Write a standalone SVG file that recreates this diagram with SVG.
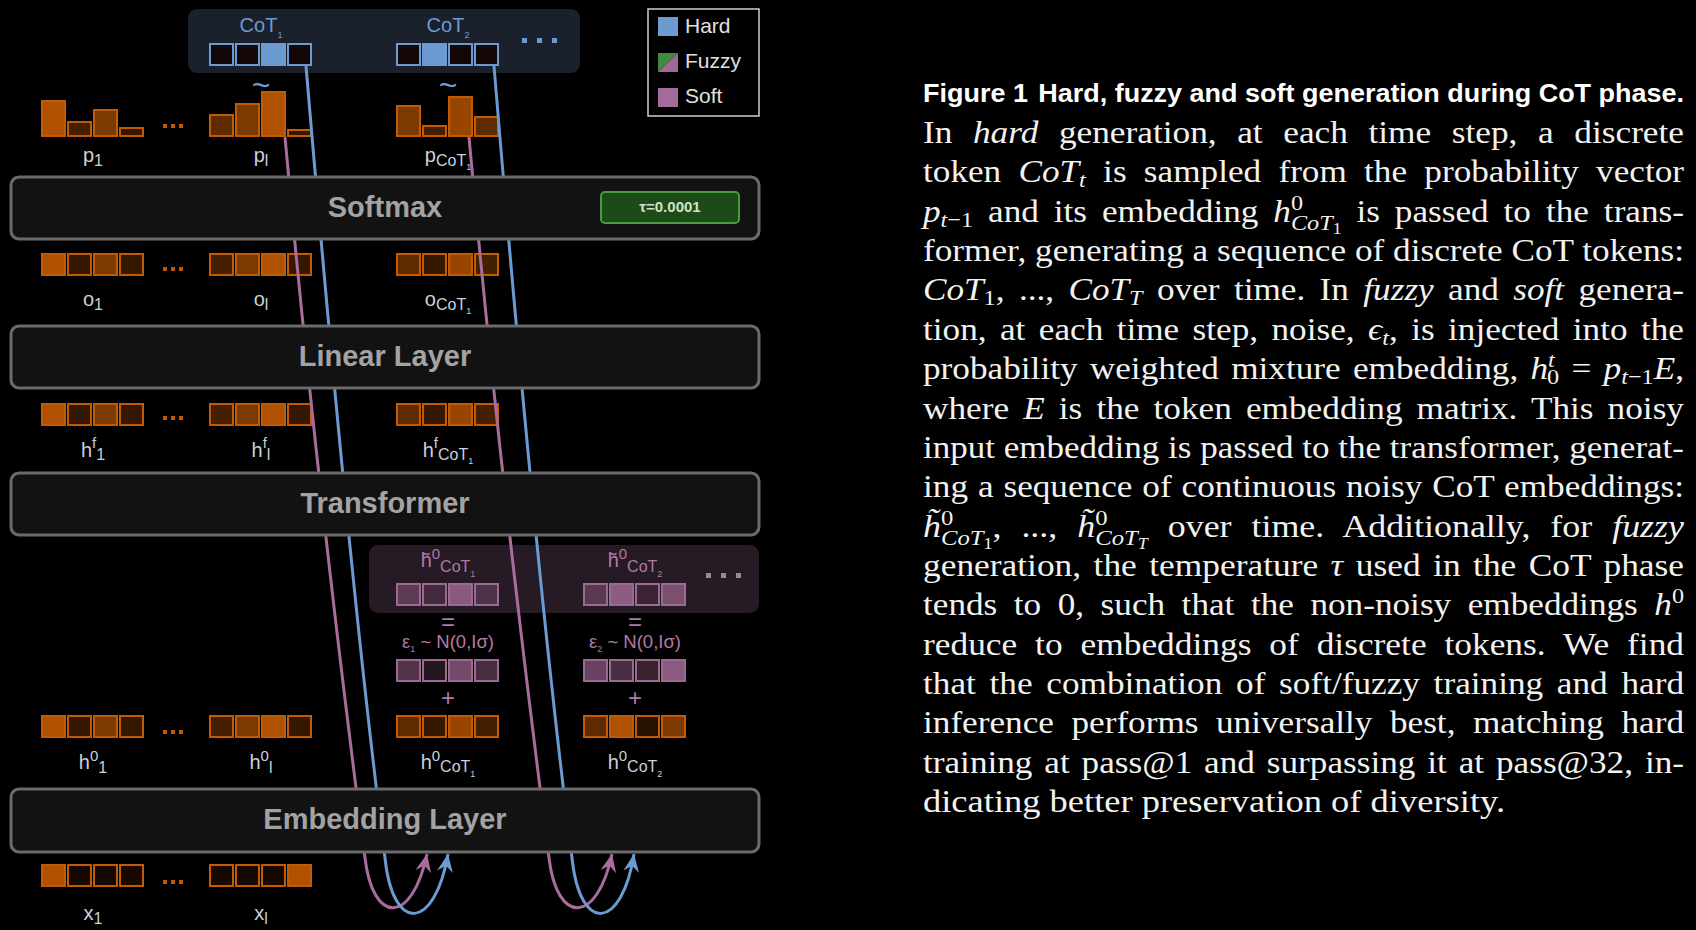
<svg xmlns="http://www.w3.org/2000/svg" width="1696" height="930" viewBox="0 0 1696 930">
<defs>
<style>
.lay rect.box{fill:#121212;stroke:#6b6b6b;stroke-width:3}
.lay text.ttl{font-family:"Liberation Sans",Arial,sans-serif;font-weight:bold;font-size:29px;fill:#a3a3a3;text-anchor:middle}
.ob rect{stroke:#c45b00;stroke-width:2}
.pb rect{stroke:#9c6a90;stroke-width:2}
.cb rect{stroke:#6b9bd0;stroke-width:2;fill:#130707}
.cb rect.on{fill:#6b9bd0}
.lbl{font-family:"Liberation Sans",Arial,sans-serif;font-size:20px;fill:#c9d1dc;text-anchor:middle}
.plbl{font-family:"Liberation Sans",Arial,sans-serif;font-size:20px;fill:#b07aa6;text-anchor:middle}
.blbl{font-family:"Liberation Sans",Arial,sans-serif;font-size:20px;fill:#6b9bd0;text-anchor:middle}
.s16{font-size:16px}.s15{font-size:15px}.s9{font-size:9px}
.c1{fill:#b05100}.c2{fill:#984500}.c3{fill:#7c3900}.c4{fill:#5e2b00}.c5{fill:#452000}.c6{fill:#341800}.c7{fill:#170900}.c8{fill:#2a1200}
.odot{fill:#c45b00}
.body{font-family:"Liberation Serif","Times New Roman",serif;font-size:32px;fill:#f2f2f2}
.mi{font-style:italic}
.sub{font-size:22px}
.ss{font-size:16px}
.conn path{fill:none;stroke-width:3}
.pk{stroke:#a96c9c}.bl{stroke:#6b9bd0}
.leg{font-family:"Liberation Sans",Arial,sans-serif;font-size:21px;fill:#e0e0e0}
</style>
<marker id="ahp" viewBox="-19 -9 20 18" refX="0" refY="0" markerWidth="20" markerHeight="18" markerUnits="userSpaceOnUse" orient="auto">
<path d="M0,0 L-18,-8 L-12,0 L-18,8 Z" fill="#a96c9c"/>
</marker>
<marker id="ahb" viewBox="-19 -9 20 18" refX="0" refY="0" markerWidth="20" markerHeight="18" markerUnits="userSpaceOnUse" orient="auto">
<path d="M0,0 L-18,-8 L-12,0 L-18,8 Z" fill="#6b9bd0"/>
</marker>
</defs>
<rect x="0" y="0" width="1696" height="930" fill="#000"/>

<g id="cot-panel">
<rect x="188" y="9" width="392" height="64" rx="9" fill="#1a212d"/>
<text class="blbl" x="261" y="32">CoT<tspan class="s9" dy="6">1</tspan></text>
<text class="blbl" x="448" y="32">CoT<tspan class="s9" dy="6">2</tspan></text>
<g class="cb">
<rect x="210" y="44" width="23" height="21"/><rect x="236" y="44" width="23" height="21"/><rect class="on" x="262" y="44" width="23" height="21"/><rect x="288" y="44" width="23" height="21"/>
<rect x="397" y="44" width="23" height="21"/><rect class="on" x="423" y="44" width="23" height="21"/><rect x="449" y="44" width="23" height="21"/><rect x="475" y="44" width="23" height="21"/>
</g>
<rect x="522" y="38" width="5" height="5" fill="#6b9bd0"/><rect x="537" y="38" width="5" height="5" fill="#6b9bd0"/><rect x="552" y="38" width="5" height="5" fill="#6b9bd0"/>
<text class="blbl" x="261" y="96" style="font-size:32px">~</text>
<text class="blbl" x="448" y="96" style="font-size:32px">~</text>
</g>

<g id="legend">
<rect x="648" y="9" width="111" height="107" fill="#000" stroke="#d0d0d0" stroke-width="1.5"/>
<rect x="658" y="17" width="20" height="19" fill="#6b9bd0"/>
<text class="leg" x="685" y="33">Hard</text>
<polygon points="658,53 678,53 658,72" fill="#3f8a3c"/>
<polygon points="678,53 678,72 658,72" fill="#a06a98"/>
<text class="leg" x="685" y="68">Fuzzy</text>
<rect x="658" y="88" width="20" height="19" fill="#a46c9a"/>
<text class="leg" x="685" y="103">Soft</text>
</g>

<g id="row-p">
<g class="ob">
<rect class="c1" x="42" y="101" width="23" height="35"/><rect class="c5" x="68" y="122" width="23" height="14"/><rect class="c3" x="94" y="110" width="23" height="26"/><rect class="c6" x="120" y="128" width="23" height="8"/>
<rect class="c4" x="210" y="115" width="23" height="21"/><rect class="c3" x="236" y="104" width="23" height="32"/><rect class="c1" x="262" y="92" width="23" height="44"/><rect class="c6" x="288" y="130" width="23" height="6"/>
<rect class="c3" x="397" y="106" width="23" height="30"/><rect class="c5" x="423" y="126" width="23" height="10"/><rect class="c2" x="449" y="97" width="23" height="39"/><rect class="c4" x="475" y="117" width="23" height="19"/>
</g>
<rect class="odot" x="163" y="124" width="4" height="4"/><rect class="odot" x="171" y="124" width="4" height="4"/><rect class="odot" x="179" y="124" width="4" height="4"/>
<text class="lbl" x="93" y="162">p<tspan class="s16" dy="4">1</tspan></text>
<text class="lbl" x="261" y="162">p<tspan class="s16" dy="4">l</tspan></text>
<text class="lbl" x="448" y="162">p<tspan class="s16" dy="4">CoT</tspan><tspan class="s9" dy="4">1</tspan></text>
</g>

<g id="row-o">
<g class="ob">
<rect class="c1" x="42" y="254" width="23" height="21"/><rect class="c6" x="68" y="254" width="23" height="21"/><rect class="c3" x="94" y="254" width="23" height="21"/><rect class="c6" x="120" y="254" width="23" height="21"/>
<rect class="c5" x="210" y="254" width="23" height="21"/><rect class="c3" x="236" y="254" width="23" height="21"/><rect class="c1" x="262" y="254" width="23" height="21"/><rect class="c6" x="288" y="254" width="23" height="21"/>
<rect class="c4" x="397" y="254" width="23" height="21"/><rect class="c6" x="423" y="254" width="23" height="21"/><rect class="c2" x="449" y="254" width="23" height="21"/><rect class="c5" x="475" y="254" width="23" height="21"/>
</g>
<rect class="odot" x="163" y="267" width="4" height="4"/><rect class="odot" x="171" y="267" width="4" height="4"/><rect class="odot" x="179" y="267" width="4" height="4"/>
<text class="lbl" x="93" y="306">o<tspan class="s16" dy="4">1</tspan></text>
<text class="lbl" x="261" y="306">o<tspan class="s16" dy="4">l</tspan></text>
<text class="lbl" x="448" y="306">o<tspan class="s16" dy="4">CoT</tspan><tspan class="s9" dy="4">1</tspan></text>
</g>

<g id="row-hf">
<g class="ob">
<rect class="c1" x="42" y="404" width="23" height="21"/><rect class="c6" x="68" y="404" width="23" height="21"/><rect class="c3" x="94" y="404" width="23" height="21"/><rect class="c6" x="120" y="404" width="23" height="21"/>
<rect class="c5" x="210" y="404" width="23" height="21"/><rect class="c3" x="236" y="404" width="23" height="21"/><rect class="c1" x="262" y="404" width="23" height="21"/><rect class="c6" x="288" y="404" width="23" height="21"/>
<rect class="c4" x="397" y="404" width="23" height="21"/><rect class="c6" x="423" y="404" width="23" height="21"/><rect class="c2" x="449" y="404" width="23" height="21"/><rect class="c5" x="475" y="404" width="23" height="21"/>
</g>
<rect class="odot" x="163" y="416" width="4" height="4"/><rect class="odot" x="171" y="416" width="4" height="4"/><rect class="odot" x="179" y="416" width="4" height="4"/>
<text class="lbl" x="93" y="457">h<tspan class="s15" dy="-9">f</tspan><tspan class="s16" dy="12">1</tspan></text>
<text class="lbl" x="261" y="457">h<tspan class="s15" dy="-9">f</tspan><tspan class="s16" dy="12">l</tspan></text>
<text class="lbl" x="448" y="457">h<tspan class="s15" dy="-9">f</tspan><tspan class="s16" dy="12">CoT</tspan><tspan class="s9" dy="4">1</tspan></text>
</g>

<g id="noise-panel">
<rect x="369" y="545" width="390" height="68" rx="9" fill="#261a24"/>
<rect x="706" y="573" width="5" height="5" fill="#b07aa6"/><rect x="721" y="573" width="5" height="5" fill="#b07aa6"/><rect x="736" y="573" width="5" height="5" fill="#b07aa6"/>
<text class="plbl" x="448" y="567">h̃<tspan class="s15" dy="-8">0</tspan><tspan class="s16" dy="13">CoT</tspan><tspan class="s9" dy="5">1</tspan></text>
<text class="plbl" x="635" y="567">h̃<tspan class="s15" dy="-8">0</tspan><tspan class="s16" dy="13">CoT</tspan><tspan class="s9" dy="5">2</tspan></text>
<g class="pb">
<rect x="397" y="584" width="23" height="21" fill="#5f3a56"/><rect x="423" y="584" width="23" height="21" fill="#422a3c"/><rect x="449" y="584" width="23" height="21" fill="#8a5a7e"/><rect x="475" y="584" width="23" height="21" fill="#4e3247"/>
<rect x="584" y="584" width="23" height="21" fill="#5a3852"/><rect x="610" y="584" width="23" height="21" fill="#8d5c82"/><rect x="636" y="584" width="23" height="21" fill="#3b2535"/><rect x="662" y="584" width="23" height="21" fill="#7a5070"/>
</g>
</g>

<g id="noise-eps">
<text class="plbl" x="448" y="630" style="font-size:24px">=</text>
<text class="plbl" x="635" y="630" style="font-size:24px">=</text>
<text class="plbl" x="448" y="648" style="font-size:18.5px">ε<tspan class="s9" dy="4">1</tspan><tspan dy="-4"> ~ N(0,Iσ)</tspan></text>
<text class="plbl" x="635" y="648" style="font-size:18.5px">ε<tspan class="s9" dy="4">2</tspan><tspan dy="-4"> ~ N(0,Iσ)</tspan></text>
<g class="pb">
<rect x="397" y="660" width="23" height="21" fill="#523448"/><rect x="423" y="660" width="23" height="21" fill="#241820"/><rect x="449" y="660" width="23" height="21" fill="#744a6a"/><rect x="475" y="660" width="23" height="21" fill="#463040"/>
<rect x="584" y="660" width="23" height="21" fill="#674262"/><rect x="610" y="660" width="23" height="21" fill="#4a2f44"/><rect x="636" y="660" width="23" height="21" fill="#38232f"/><rect x="662" y="660" width="23" height="21" fill="#8a5a80"/>
</g>
<text class="plbl" x="448" y="706" style="font-size:24px">+</text>
<text class="plbl" x="635" y="706" style="font-size:24px">+</text>
</g>

<g id="row-h0">
<g class="ob">
<rect class="c1" x="42" y="716" width="23" height="21"/><rect class="c6" x="68" y="716" width="23" height="21"/><rect class="c3" x="94" y="716" width="23" height="21"/><rect class="c6" x="120" y="716" width="23" height="21"/>
<rect class="c5" x="210" y="716" width="23" height="21"/><rect class="c3" x="236" y="716" width="23" height="21"/><rect class="c1" x="262" y="716" width="23" height="21"/><rect class="c6" x="288" y="716" width="23" height="21"/>
<rect class="c4" x="397" y="716" width="23" height="21"/><rect class="c6" x="423" y="716" width="23" height="21"/><rect class="c2" x="449" y="716" width="23" height="21"/><rect class="c5" x="475" y="716" width="23" height="21"/>
<rect class="c4" x="584" y="716" width="23" height="21"/><rect class="c1" x="610" y="716" width="23" height="21"/><rect class="c8" x="636" y="716" width="23" height="21"/><rect class="c3" x="662" y="716" width="23" height="21"/>
</g>
<rect class="odot" x="163" y="730" width="4" height="4"/><rect class="odot" x="171" y="730" width="4" height="4"/><rect class="odot" x="179" y="730" width="4" height="4"/>
<text class="lbl" x="93" y="769">h<tspan class="s15" dy="-8">0</tspan><tspan class="s16" dy="12">1</tspan></text>
<text class="lbl" x="261" y="769">h<tspan class="s15" dy="-8">0</tspan><tspan class="s16" dy="12">l</tspan></text>
<text class="lbl" x="448" y="769">h<tspan class="s15" dy="-8">0</tspan><tspan class="s16" dy="11">CoT</tspan><tspan class="s9" dy="5">1</tspan></text>
<text class="lbl" x="635" y="769">h<tspan class="s15" dy="-8">0</tspan><tspan class="s16" dy="11">CoT</tspan><tspan class="s9" dy="5">2</tspan></text>
</g>

<g id="row-x">
<g class="ob">
<rect class="c1" x="42" y="865" width="23" height="21"/><rect class="c7" x="68" y="865" width="23" height="21"/><rect class="c7" x="94" y="865" width="23" height="21"/><rect class="c7" x="120" y="865" width="23" height="21"/>
<rect class="c7" x="210" y="865" width="23" height="21"/><rect class="c7" x="236" y="865" width="23" height="21"/><rect class="c7" x="262" y="865" width="23" height="21"/><rect class="c1" x="288" y="865" width="23" height="21"/>
</g>
<rect class="odot" x="163" y="880" width="4" height="4"/><rect class="odot" x="171" y="880" width="4" height="4"/><rect class="odot" x="179" y="880" width="4" height="4"/>
<text class="lbl" x="93" y="920">x<tspan class="s16" dy="4">1</tspan></text>
<text class="lbl" x="261" y="920">x<tspan class="s16" dy="4">l</tspan></text>
</g>

<g id="connectors" class="conn">
<path class="pk" d="M285,137 Q316,480 365,858 C373,925 412,925 427,854" marker-end="url(#ahp)"/>
<path class="bl" d="M306,66 Q350,586 385,858 C393,935 435,930 448,854" marker-end="url(#ahb)"/>
<path class="pk" d="M469,137 Q500,480 549,858 C557,925 597,925 612,854" marker-end="url(#ahp)"/>
<path class="bl" d="M494,66 Q537,586 572,858 C580,935 622,930 634,854" marker-end="url(#ahb)"/>
</g>

<g id="softmax" class="lay">
<rect class="box" x="11" y="177" width="748" height="62" rx="8"/>
<text class="ttl" x="385" y="217">Softmax</text>
<rect x="601" y="192" width="138" height="31" rx="4" fill="#1c4a18" stroke="#4c9a40" stroke-width="2"/>
<text x="670" y="212" font-family="Liberation Sans, Arial, sans-serif" font-weight="bold" font-size="15" fill="#cfe3c8" text-anchor="middle">τ=0.0001</text>
</g>
<g id="linear-layer" class="lay">
<rect class="box" x="11" y="326" width="748" height="62" rx="8"/>
<text class="ttl" x="385" y="366">Linear Layer</text>
</g>
<g id="transformer" class="lay">
<rect class="box" x="11" y="473" width="748" height="62" rx="8"/>
<text class="ttl" x="385" y="513">Transformer</text>
</g>
<g id="embedding-layer" class="lay">
<rect class="box" x="11" y="789" width="748" height="63" rx="8"/>
<text class="ttl" x="385" y="829">Embedding Layer</text>
</g>

<g id="caption">
<text x="923" y="102" font-family="Liberation Sans, Arial, sans-serif" font-weight="bold" font-size="26" fill="#ffffff" textLength="761" lengthAdjust="spacingAndGlyphs">Figure 1<tspan dx="10">Hard, fuzzy and soft generation during CoT phase.</tspan></text>
<text class="body" x="923" y="143" style="word-spacing:10.7px" textLength="761" lengthAdjust="spacingAndGlyphs">In <tspan class="mi">hard</tspan> generation, at each time step, a discrete</text>
<text class="body" x="923" y="182.4" style="word-spacing:7.7px" textLength="761" lengthAdjust="spacingAndGlyphs">token <tspan class="mi">CoT</tspan><tspan class="sub mi" dy="5">t</tspan><tspan dy="-5"> is sampled from the probability vector</tspan></text>
<text class="body" x="923" y="221.7" style="word-spacing:5.6px" textLength="761" lengthAdjust="spacingAndGlyphs"><tspan class="mi">p</tspan><tspan class="sub mi" dy="5">t</tspan><tspan class="sub">−1</tspan><tspan dy="-5"> and its embedding </tspan><tspan class="mi">h</tspan><tspan class="sub" dy="-12">0</tspan><tspan class="sub mi" dx="-11" dy="20">CoT</tspan><tspan class="ss" dy="4">1</tspan><tspan dy="-12"> is passed to the trans-</tspan></text>
<text class="body" x="923" y="261" textLength="761" lengthAdjust="spacingAndGlyphs">former, generating a sequence of discrete CoT tokens:</text>
<text class="body" x="923" y="300.4" style="word-spacing:5.1px" textLength="761" lengthAdjust="spacingAndGlyphs"><tspan class="mi">CoT</tspan><tspan class="sub" dy="5">1</tspan><tspan dy="-5">, ..., </tspan><tspan class="mi">CoT</tspan><tspan class="sub mi" dy="5">T</tspan><tspan dy="-5"> over time. In </tspan><tspan class="mi">fuzzy</tspan><tspan> and </tspan><tspan class="mi">soft</tspan><tspan> genera-</tspan></text>
<text class="body" x="923" y="339.8" style="word-spacing:4.2px" textLength="761" lengthAdjust="spacingAndGlyphs">tion, at each time step, noise, <tspan class="mi">ϵ</tspan><tspan class="sub mi" dy="5">t</tspan><tspan dy="-5">, is injected into the</tspan></text>
<text class="body" x="923" y="379.1" style="word-spacing:3.1px" textLength="761" lengthAdjust="spacingAndGlyphs">probability weighted mixture embedding, <tspan class="mi">h</tspan><tspan class="sub mi" dy="-12">t</tspan><tspan class="sub" dx="-7" dy="17">0</tspan><tspan dy="-5"> = </tspan><tspan class="mi">p</tspan><tspan class="sub mi" dy="5">t</tspan><tspan class="sub">−1</tspan><tspan class="mi" dy="-5">E</tspan><tspan>,</tspan></text>
<text class="body" x="923" y="418.5" style="word-spacing:4.8px" textLength="761" lengthAdjust="spacingAndGlyphs">where <tspan class="mi">E</tspan> is the token embedding matrix. This noisy</text>
<text class="body" x="923" y="457.8" textLength="761" lengthAdjust="spacingAndGlyphs">input embedding is passed to the transformer, generat-</text>
<text class="body" x="923" y="497.2" style="word-spacing:1px" textLength="761" lengthAdjust="spacingAndGlyphs">ing a sequence of continuous noisy CoT embeddings:</text>
<text class="body" x="923" y="536.5" style="word-spacing:9.8px" textLength="761" lengthAdjust="spacingAndGlyphs"><tspan class="mi">h̃</tspan><tspan class="sub" dy="-12">0</tspan><tspan class="sub mi" dx="-11" dy="20">CoT</tspan><tspan class="ss" dy="4">1</tspan><tspan dy="-12">, ..., </tspan><tspan class="mi">h̃</tspan><tspan class="sub" dy="-12">0</tspan><tspan class="sub mi" dx="-11" dy="20">CoT</tspan><tspan class="ss mi" dy="4">T</tspan><tspan dy="-12"> over time. Additionally, for </tspan><tspan class="mi">fuzzy</tspan></text>
<text class="body" x="923" y="575.9" style="word-spacing:3.3px" textLength="761" lengthAdjust="spacingAndGlyphs">generation, the temperature <tspan class="mi">τ</tspan> used in the CoT phase</text>
<text class="body" x="923" y="615.2" style="word-spacing:7px" textLength="761" lengthAdjust="spacingAndGlyphs">tends to 0, such that the non-noisy embeddings <tspan class="mi">h</tspan><tspan class="sub" dy="-12">0</tspan></text>
<text class="body" x="923" y="654.6" style="word-spacing:8.2px" textLength="761" lengthAdjust="spacingAndGlyphs">reduce to embeddings of discrete tokens. We find</text>
<text class="body" x="923" y="693.9" style="word-spacing:4.5px" textLength="761" lengthAdjust="spacingAndGlyphs">that the combination of soft/fuzzy training and hard</text>
<text class="body" x="923" y="733.3" style="word-spacing:7.9px" textLength="761" lengthAdjust="spacingAndGlyphs">inference performs universally best, matching hard</text>
<text class="body" x="923" y="772.6" style="word-spacing:2.8px" textLength="761" lengthAdjust="spacingAndGlyphs">training at pass@1 and surpassing it at pass@32, in-</text>
<text class="body" x="923" y="812" textLength="582" lengthAdjust="spacingAndGlyphs">dicating better preservation of diversity.</text>
</g>
</svg>
